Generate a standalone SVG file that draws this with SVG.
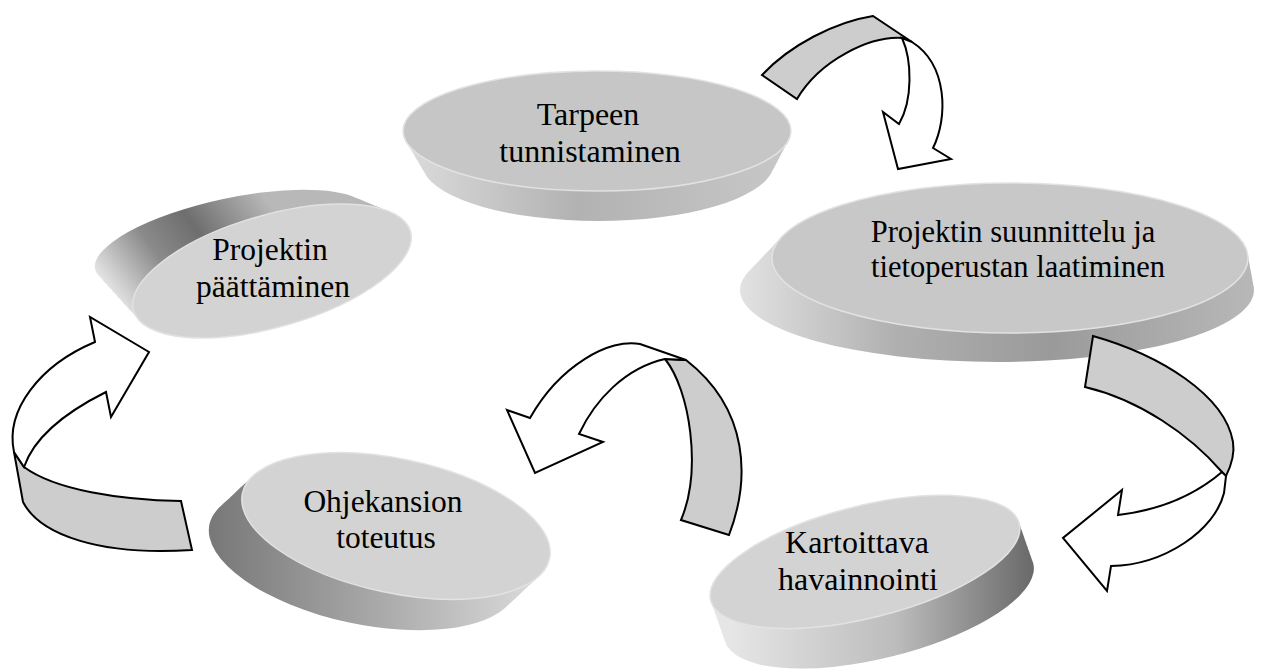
<svg xmlns="http://www.w3.org/2000/svg" width="1282" height="671" viewBox="0 0 1282 671">
<style>
.lbl{font-family:"Liberation Serif","Times New Roman",serif;fill:#000;text-anchor:middle}
.face{stroke:#e2e2e2;stroke-width:1.5}
.aw{fill:#fff;stroke:#000;stroke-width:2;stroke-linejoin:miter}
.ag{fill:#cdcdcd;stroke:#000;stroke-width:2;stroke-linejoin:miter}
</style>
<defs>
<linearGradient id="g1" gradientUnits="userSpaceOnUse" x1="403" y1="0" x2="791" y2="0">
<stop offset="0" stop-color="#dcdcdc"/><stop offset="0.45" stop-color="#b2b2b2"/><stop offset="1" stop-color="#c8c8c8"/>
</linearGradient>
<linearGradient id="g2" gradientUnits="userSpaceOnUse" x1="740" y1="0" x2="1256" y2="0">
<stop offset="0" stop-color="#e2e2e2"/><stop offset="0.3" stop-color="#b0b0b0"/><stop offset="0.6" stop-color="#9a9a9a"/><stop offset="1" stop-color="#b8b8b8"/>
</linearGradient>
<linearGradient id="g3" gradientUnits="userSpaceOnUse" x1="110" y1="300" x2="260" y2="190">
<stop offset="0" stop-color="#ececec"/><stop offset="0.35" stop-color="#8a8a8a"/><stop offset="0.6" stop-color="#6e6e6e"/><stop offset="1" stop-color="#b8b8b8"/>
</linearGradient>
<linearGradient id="g4" gradientUnits="userSpaceOnUse" x1="207" y1="0" x2="530" y2="0">
<stop offset="0" stop-color="#777777"/><stop offset="0.5" stop-color="#a6a6a6"/><stop offset="1" stop-color="#d8d8d8"/>
</linearGradient>
<linearGradient id="g5" gradientUnits="userSpaceOnUse" x1="730" y1="0" x2="1032" y2="0">
<stop offset="0" stop-color="#e6e6e6"/><stop offset="0.55" stop-color="#bcbcbc"/><stop offset="1" stop-color="#6a6a6a"/>
</linearGradient>
<clipPath id="c1">
<ellipse cx="598" cy="163" rx="176" ry="58"/>
<ellipse cx="597.83" cy="157.67" rx="179" ry="58.33"/>
<ellipse cx="597.67" cy="152.33" rx="182" ry="58.67"/>
<ellipse cx="597.5" cy="147" rx="185" ry="59"/>
<ellipse cx="597.33" cy="141.67" rx="188" ry="59.33"/>
<ellipse cx="597.17" cy="136.33" rx="191" ry="59.67"/>
<ellipse cx="597" cy="131" rx="194" ry="60"/>
</clipPath>
<clipPath id="c2">
<ellipse cx="997" cy="290" rx="257" ry="72"/>
<ellipse cx="998.6" cy="286" rx="254.6" ry="72.4"/>
<ellipse cx="1000.25" cy="282" rx="252.25" ry="72.75"/>
<ellipse cx="1001.9" cy="278" rx="249.9" ry="73.1"/>
<ellipse cx="1003.5" cy="274" rx="247.5" ry="73.5"/>
<ellipse cx="1005.1" cy="270" rx="245.1" ry="73.9"/>
<ellipse cx="1006.75" cy="266" rx="242.75" ry="74.25"/>
<ellipse cx="1008.4" cy="262" rx="240.4" ry="74.6"/>
<ellipse cx="1010" cy="258" rx="238" ry="75"/>
</clipPath>
<clipPath id="c3">
<ellipse rx="140" ry="42" transform="translate(232 240) rotate(-12)"/>
<ellipse rx="140.5" ry="43.75" transform="translate(237 243.9) rotate(-12.5)"/>
<ellipse rx="141" ry="45.5" transform="translate(242 247.75) rotate(-13)"/>
<ellipse rx="141.5" ry="47.25" transform="translate(247 251.6) rotate(-13.5)"/>
<ellipse rx="142" ry="49" transform="translate(252 255.5) rotate(-14)"/>
<ellipse rx="142.5" ry="50.75" transform="translate(257 259.4) rotate(-14.5)"/>
<ellipse rx="143" ry="52.5" transform="translate(262 263.25) rotate(-15)"/>
<ellipse rx="143.5" ry="54.25" transform="translate(267 267.1) rotate(-15.5)"/>
<ellipse rx="144" ry="56" transform="translate(272 271) rotate(-16)"/>
</clipPath>
<clipPath id="c4">
<ellipse rx="157" ry="67" transform="translate(363 557) rotate(12)"/>
<ellipse rx="157" ry="67" transform="translate(367.1 553.1) rotate(12)"/>
<ellipse rx="157" ry="67" transform="translate(371.25 549.25) rotate(12)"/>
<ellipse rx="157" ry="67" transform="translate(375.4 545.4) rotate(12)"/>
<ellipse rx="157" ry="67" transform="translate(379.5 541.5) rotate(12)"/>
<ellipse rx="157" ry="67" transform="translate(383.6 537.6) rotate(12)"/>
<ellipse rx="157" ry="67" transform="translate(387.75 533.75) rotate(12)"/>
<ellipse rx="157" ry="67" transform="translate(391.9 529.9) rotate(12)"/>
<ellipse rx="157" ry="67" transform="translate(396 526) rotate(12)"/>
</clipPath>
<clipPath id="c5">
<ellipse rx="159" ry="56" transform="translate(879 602) rotate(-14)"/>
<ellipse rx="159" ry="56" transform="translate(877.25 597) rotate(-14)"/>
<ellipse rx="159" ry="56" transform="translate(875.5 592) rotate(-14)"/>
<ellipse rx="159" ry="56" transform="translate(873.75 587) rotate(-14)"/>
<ellipse rx="159" ry="56" transform="translate(872 582) rotate(-14)"/>
<ellipse rx="159" ry="56" transform="translate(870.25 577) rotate(-14)"/>
<ellipse rx="159" ry="56" transform="translate(868.5 572) rotate(-14)"/>
<ellipse rx="159" ry="56" transform="translate(866.75 567) rotate(-14)"/>
<ellipse rx="159" ry="56" transform="translate(865 562) rotate(-14)"/>
</clipPath>
</defs>
<rect width="1282" height="671" fill="#fff"/>

<g id="node-tarpeen">
<rect x="395" y="65" width="405" height="165" fill="url(#g1)" clip-path="url(#c1)"/>
<ellipse class="face" cx="597" cy="131" rx="194" ry="60" fill="#c6c6c6"/>
<text class="lbl" font-size="32" x="588" y="125">Tarpeen</text>
<text class="lbl" font-size="32" x="590" y="162">tunnistaminen</text>
</g>

<g id="node-suunnittelu">
<rect x="730" y="175" width="540" height="195" fill="url(#g2)" clip-path="url(#c2)"/>
<ellipse class="face" cx="1010" cy="258" rx="238" ry="75" fill="#c8c8c8"/>
<text class="lbl" font-size="30.5" x="1013" y="242">Projektin suunnittelu ja</text>
<text class="lbl" font-size="30.5" x="1018" y="277">tietoperustan laatiminen</text>
</g>

<g id="node-paattaminen">
<rect x="80" y="170" width="360" height="190" fill="url(#g3)" clip-path="url(#c3)"/>
<ellipse class="face" rx="144" ry="56" transform="translate(272 271) rotate(-16)" fill="#d3d3d3"/>
<text class="lbl" font-size="31.5" x="270" y="260">Projektin</text>
<text class="lbl" font-size="31.5" x="273" y="297">päättäminen</text>
</g>

<g id="node-ohjekansion">
<rect x="195" y="440" width="370" height="200" fill="url(#g4)" clip-path="url(#c4)"/>
<ellipse class="face" rx="157" ry="67" transform="translate(396 526) rotate(12)" fill="#d3d3d3"/>
<text class="lbl" font-size="31.5" x="383" y="512">Ohjekansion</text>
<text class="lbl" font-size="31.5" x="386" y="548">toteutus</text>
</g>

<g id="node-kartoittava">
<rect x="700" y="480" width="345" height="191" fill="url(#g5)" clip-path="url(#c5)"/>
<ellipse class="face" rx="159" ry="56" transform="translate(865 562) rotate(-14)" fill="#d3d3d3"/>
<text class="lbl" font-size="32" x="857" y="553">Kartoittava</text>
<text class="lbl" font-size="32" x="858" y="590">havainnointi</text>
</g>

<g id="connectors">
<g id="arrow-top">
<path class="ag" d="M762,75 C790,45 835,22 873,16 L912,42 L902,38 C870,36 820,60 797,99 Z"/>
<path class="aw" d="M902,38 C912,60 913,100 899,124 L883,112 L898,169 L951,159 L933,148 C948,118 948,65 912,42 Z"/>
</g>
<g id="arrow-right">
<path class="ag" d="M1093,336 C1160,355 1225,395 1233,442 C1235,455 1230,468 1226,476 L1222,472 C1190,435 1140,400 1085,387 Z"/>
<path class="aw" d="M1222,472 C1195,495 1160,510 1118,515 L1122,490 L1063,538 L1107,591 L1111,566 C1165,565 1215,530 1224,493 L1226,476 Z"/>
</g>
<g id="arrow-middle">
<path class="ag" d="M665,359 C690,390 702,470 681,520 L729,535 C750,480 750,410 686,360 Z"/>
<path class="aw" d="M686,360 L640,344 C610,338 560,365 530,418 L507,410 L535,473 L603,442 L579,434 C595,400 625,368 665,359 Z"/>
</g>
<g id="arrow-left">
<path class="ag" d="M181,501 C120,500 55,490 24,467 L14,452 L23,502 C40,535 100,556 192,550 Z"/>
<path class="aw" d="M14,452 C5,410 40,365 95,342 L90,317 L149,352 L111,417 L106,392 C70,410 35,435 24,467 Z"/>
</g>
</g>
</svg>
